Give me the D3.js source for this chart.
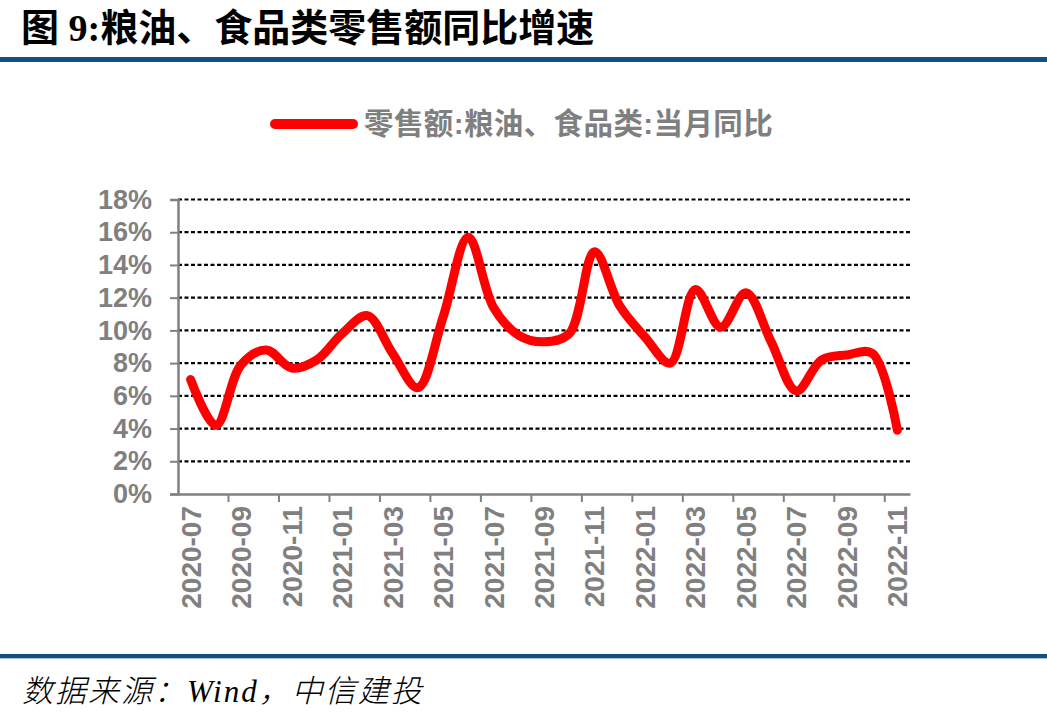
<!DOCTYPE html>
<html>
<head>
<meta charset="utf-8">
<script src="https://cdn.jsdelivr.net/npm/d3@7/dist/d3.min.js"></script>
<style>
  html, body { margin: 0; padding: 0; background: #fff; }
  svg { display: block; }
</style>
</head>
<body>
<svg id="chart" width="1047" height="723"></svg>
<script>
// ---- data ----
const months = [
  "2020-07","2020-08","2020-09","2020-10","2020-11","2020-12",
  "2021-01","2021-02","2021-03","2021-04","2021-05","2021-06",
  "2021-07","2021-08","2021-09","2021-10","2021-11","2021-12",
  "2022-01","2022-02","2022-03","2022-04","2022-05","2022-06",
  "2022-07","2022-08","2022-09","2022-10","2022-11"
];
const yoyValues = [
  7.0, 4.2, 7.9, 8.8, 7.7, 8.2,
  9.8, 10.9, 8.6, 6.5, 10.8, 15.7,
  11.4, 9.7, 9.3, 9.8, 14.8, 11.5,
  9.6, 8.0, 12.5, 10.2, 12.3, 9.3,
  6.3, 8.2, 8.5, 8.6, 3.9
];
const yTicks = [0, 2, 4, 6, 8, 10, 12, 14, 16, 18];
const xLabelMonths = months.filter((d, i) => i % 2 === 0);
const seriesName = "零售额:粮油、食品类:当月同比";
const titleText = "图 9:粮油、食品类零售额同比增速";
const sourceText = "数据来源：Wind，中信建投";

// ---- layout ----
const svg = d3.select("#chart");
const W = 1047, H = 723;
const plot = { left: 178, right: 910, top: 199.5, bottom: 494 };

const x = d3.scaleBand().domain(months).range([plot.left, plot.right]).padding(0);
const y = d3.scaleLinear().domain([0, 18]).range([plot.bottom, plot.top]);
const cx = d => x(d) + x.bandwidth() / 2;

// title
svg.append("text")
  .attr("x", 21).attr("y", 41)
  .attr("font-family", "'Liberation Serif', 'Noto Sans CJK SC', sans-serif")
  .attr("font-weight", 700)
  .attr("font-size", 38)
  .attr("fill", "#000")
  .text(titleText);

// top rule
svg.append("rect").attr("x", 0).attr("y", 57).attr("width", W).attr("height", 5).attr("fill", "#12507f");

// legend
const legY = 124;
svg.append("line")
  .attr("x1", 275).attr("x2", 353).attr("y1", legY).attr("y2", legY)
  .attr("stroke", "#ff0000").attr("stroke-width", 10).attr("stroke-linecap", "round");
svg.append("text")
  .attr("x", 364).attr("y", legY + 10)
  .attr("font-family", "'Liberation Sans', 'Noto Sans CJK SC', sans-serif")
  .attr("font-weight", 700)
  .attr("font-size", 29.5)
  .attr("letter-spacing", 0.4)
  .attr("fill", "#7f7f7f")
  .text(seriesName);

// gridlines
svg.append("g").selectAll("line")
  .data(yTicks.filter(t => t > 0))
  .join("line")
  .attr("x1", plot.left).attr("x2", plot.right)
  .attr("y1", d => y(d)).attr("y2", d => y(d))
  .attr("stroke", "#000").attr("stroke-width", 2.2)
  .attr("stroke-dasharray", "4,2.5");

// y axis
const yAxis = d3.axisLeft(y).tickValues(yTicks).tickSize(8).tickPadding(18)
  .tickFormat(d => d + "%");
const gy = svg.append("g").attr("transform", `translate(${plot.left},0)`).call(yAxis);
gy.select(".domain").attr("stroke", "#808080").attr("stroke-width", 2.5);
gy.selectAll(".tick line").attr("stroke", "#808080").attr("stroke-width", 2);
gy.selectAll(".tick text")
  .attr("font-family", "'Liberation Sans', Arial, sans-serif")
  .attr("font-weight", 700).attr("font-size", 27).attr("fill", "#808080");

// x axis
const xAxis = d3.axisBottom(x).tickValues([]).tickSize(0);
const gx = svg.append("g").attr("transform", `translate(0,${plot.bottom})`).call(xAxis);
gx.select(".domain").attr("stroke", "#808080").attr("stroke-width", 2.5);
// tick marks at every second category boundary
const tickBoundaries = months.filter((d, i) => i > 0 && i % 2 === 0);
gx.append("g").selectAll("line")
  .data(tickBoundaries)
  .join("line")
  .attr("x1", d => x(d)).attr("x2", d => x(d))
  .attr("y1", 0).attr("y2", 8)
  .attr("stroke", "#808080").attr("stroke-width", 2);
// labels
gx.append("g").selectAll("text")
  .data(xLabelMonths)
  .join("text")
  .attr("transform", d => `translate(${cx(d) + 10},${12}) rotate(-90)`)
  .attr("text-anchor", "end")
  .attr("font-family", "'Liberation Sans', Arial, sans-serif")
  .attr("font-weight", 700).attr("font-size", 28).attr("fill", "#808080")
  .text(d => d);

// line
const line = d3.line()
  .x((d, i) => cx(months[i]))
  .y(d => y(d))
  .curve(d3.curveCatmullRom.alpha(0.5));
svg.append("path")
  .datum(yoyValues)
  .attr("d", line)
  .attr("fill", "none")
  .attr("stroke", "#ff0000")
  .attr("stroke-width", 9)
  .attr("stroke-linecap", "round")
  .attr("stroke-linejoin", "round");

// bottom rule
svg.append("rect").attr("x", 0).attr("y", 654).attr("width", W).attr("height", 4).attr("fill", "#12507f");
svg.append("rect").attr("x", 0).attr("y", 658).attr("width", W).attr("height", 1).attr("fill", "#a9c6e0");

// source
svg.append("text")
  .attr("x", 22).attr("y", 702)
  .attr("font-family", "'Liberation Serif', 'Noto Sans CJK SC', serif")
  .attr("font-style", "italic")
  .attr("font-weight", 300)
  .attr("font-size", 31)
  .attr("letter-spacing", 2)
  .attr("fill", "#000")
  .text(sourceText);
</script>
</body>
</html>
